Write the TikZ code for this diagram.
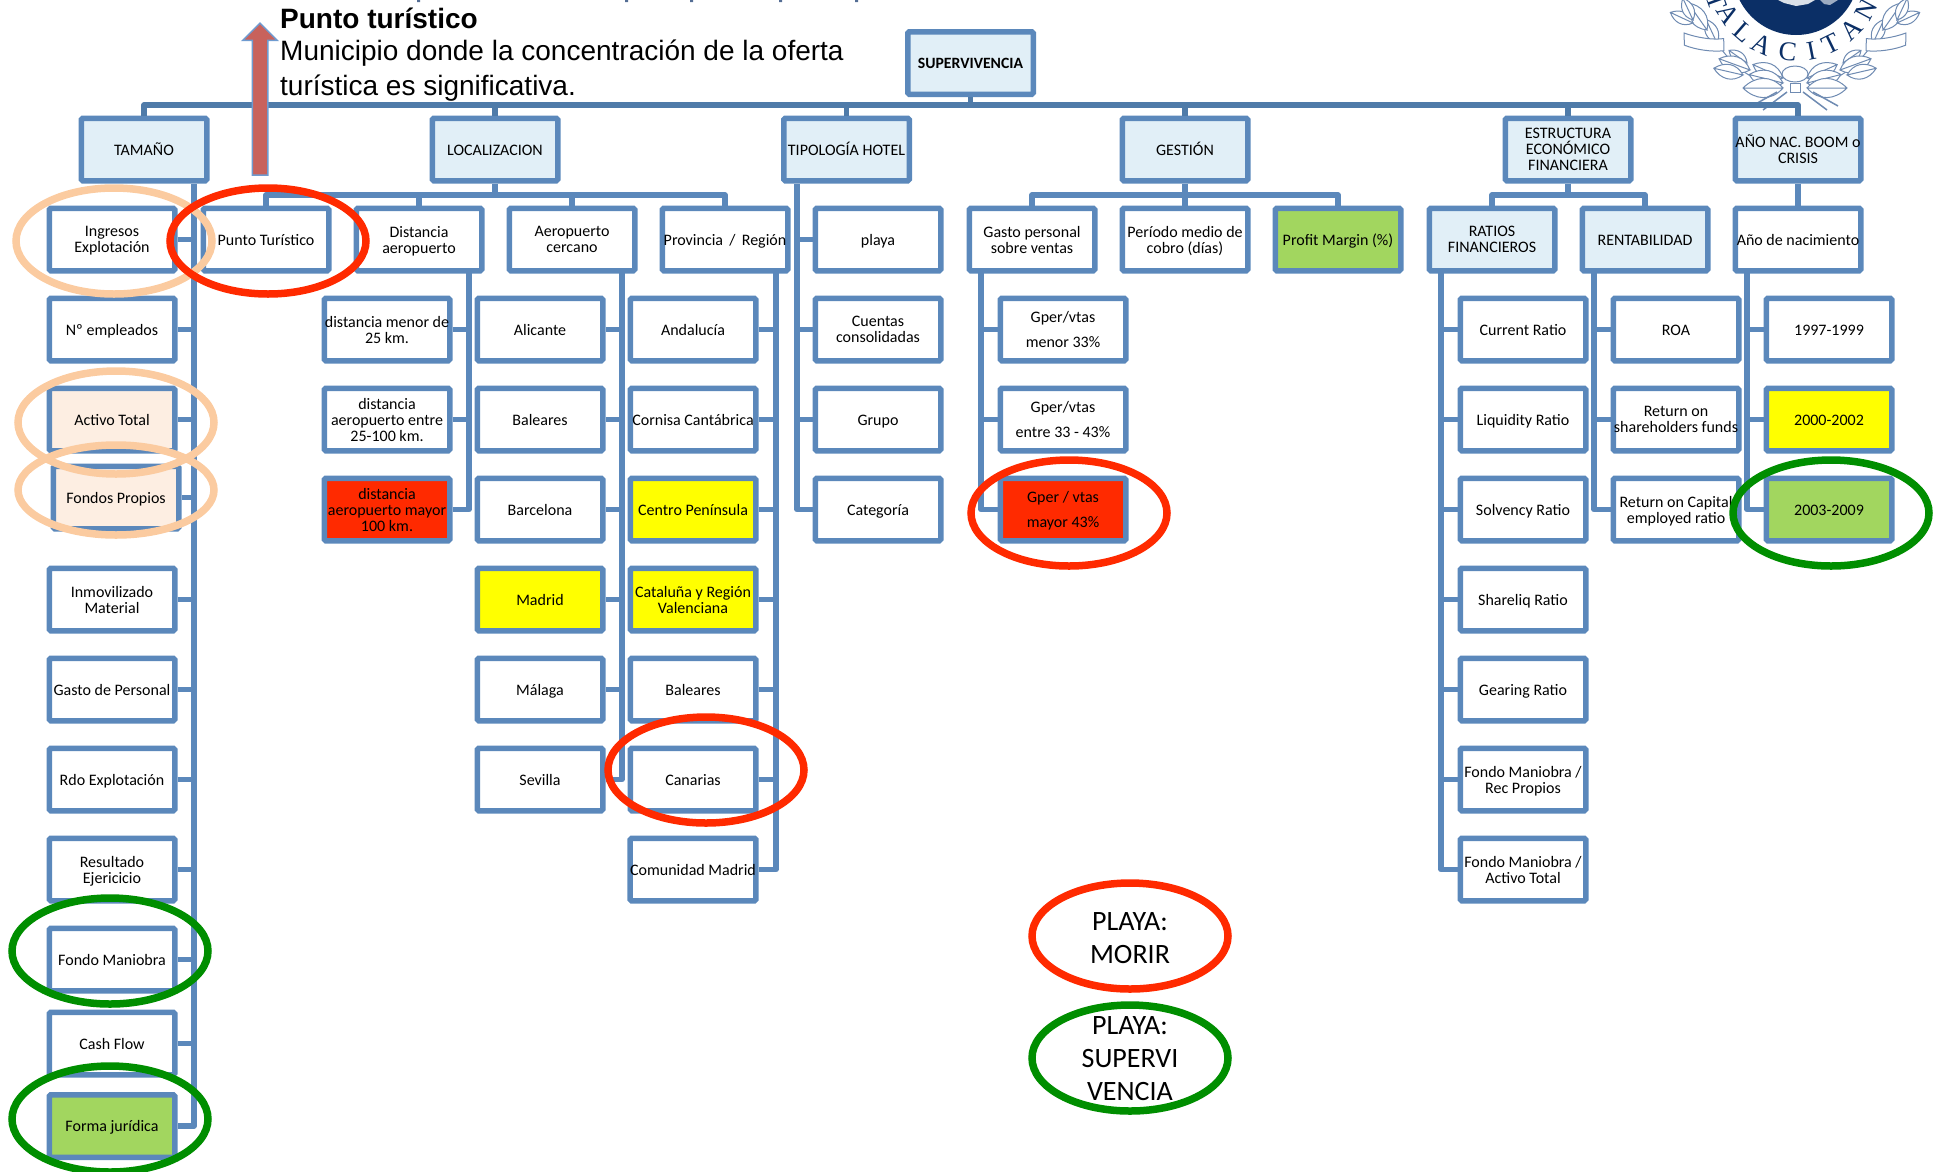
\documentclass[tikz,border=0pt]{standalone}
\usepackage{fontspec}
\setmainfont{Carlito}
\newfontfamily\arialfont{Liberation Sans}
\newfontfamily\crestfont{Liberation Serif}
\usepackage{tikz}
\usetikzlibrary{positioning,calc,shapes,shapes.arrows}
\definecolor{boxline}{HTML}{5B88BB}
\definecolor{busline}{HTML}{4F7BA9}
\definecolor{headfill}{HTML}{E1EFF7}
\definecolor{peachfill}{HTML}{FDEEE2}
\definecolor{peachring}{HTML}{FBCBA0}
\definecolor{greenfill}{HTML}{A2D65F}
\definecolor{ringgreen}{HTML}{008E00}
\definecolor{redfill}{HTML}{FF2A00}
\definecolor{amberfill}{HTML}{FFFF00}
\definecolor{arrowfill}{HTML}{C8625C}
\definecolor{arrowline}{HTML}{6F9BD0}
\definecolor{navy}{HTML}{0B2F66}
\definecolor{leafline}{HTML}{6F8BB2}
\begin{document}
\begin{tikzpicture}[x=1pt,y=1pt,node distance=90]
    \tikzstyle{every node}=[inner sep=0,align=center,font=\fontsize{16}{16}\selectfont]
    \tikzstyle{box}=[draw=boxline,line width=5.5,rounded corners=1.5,fill=white,rectangle,minimum width=125.5,minimum height=62.5,execute at begin node={\rule{0pt}{15pt}},execute at end node={\rule[-3.6pt]{0pt}{3.6pt}}]
    \tikzstyle{multi}=[text depth=-1pt]
    \tikzstyle{head}=[box,fill=headfill]
    \tikzstyle{peach}=[box,fill=peachfill]
    \tikzstyle{lime}=[box,fill=greenfill]
    \tikzstyle{amber}=[box,fill=amberfill]
    \tikzstyle{hot}=[box,fill=redfill]
    \tikzstyle{link}=[draw=boxline,line width=5.5,line join=round]
    \tikzstyle{bus}=[link,draw=busline]
    \tikzstyle{ring}=[ellipse,draw,line width=7.5,minimum width=196,minimum height=106]
    \tikzstyle{note}=[anchor=base west,font=\arialfont\fontsize{28}{33}\selectfont]
    \tikzstyle{crest}=[text=navy,font=\crestfont\fontsize{27}{27}\selectfont]
    \tikzstyle{leaf}=[draw=leafline,fill=white,line width=1]
    \useasboundingbox (0,0) rectangle (1937,-1171);
    \clip (0,0) rectangle (1937,-1171);

    % crest top right
    \coordinate (crestc) at (1796,28);
    \fill[navy] (crestc) circle (63);
    \fill[white!85!navy] (1778,0) -- (1815,0) -- (1808,-4) -- (1796,-6) -- (1784,-3) -- cycle;
    \fill[white!60!navy] (1820,0) -- (1838,0) -- (1830,-5) -- (1824,-4) -- cycle;
    \node[crest,rotate=-70] (crest1) at ($(crestc)+(-160:85)$) {T};
    \node[crest,rotate=-58] (crest2) at ($(crestc)+(-148:80)$) {A};
    \node[crest,rotate=-41] (crest3) at ($(crestc)+(-131:80)$) {L};
    \node[crest,rotate=-25] (crest4) at ($(crestc)+(-115:80)$) {A};
    \node[crest,rotate=-6] (crest5) at ($(crestc)+(-96:80)$) {C};
    \node[crest,rotate=11] (crest6) at ($(crestc)+(-79:80)$) {I};
    \node[crest,rotate=26] (crest7) at ($(crestc)+(-64:80)$) {T};
    \node[crest,rotate=44] (crest8) at ($(crestc)+(-46:80)$) {A};
    \node[crest,rotate=62] (crest9) at ($(crestc)+(-28:80)$) {N};
    \foreach \s in {1,-1}
        \draw[leafline,line width=1,shift={(1795,0)},xscale=\s] (12,-88) .. controls (40,-82) and (60,-70) .. (78,-43);
    \foreach \s in {1,-1}
        \foreach \dx/\dy/\a/\l in {78/43/65/26,88/30/55/33,102/23/25/25,102/20/65/24,48/63/35/22,45/70/20/33,52/75/13/30,12/78/24/33,12/83/14/35,12/88/0/40}
            \draw[leaf,shift={(\s*\dx+1795,-\dy)},xscale=\s,rotate=\a]
                (0,0) .. controls (\l*.3,\l*.34) and (\l*.7,\l*.3) .. (\l,0)
                .. controls (\l*.7,-\l*.3) and (\l*.3,-\l*.34) .. (0,0) -- (\l,0);
    \foreach \s in {1,-1}
        \draw[leaf,shift={(\s*90+1795,-42)},xscale=\s,rotate=8] (-20,-6) .. controls (-8,-9) and (8,-9) .. (20,-6) -- (22,6) .. controls (8,3) and (-8,3) .. (-18,6) -- cycle;
    \foreach \s in {1,-1}
        \draw[leafline,line width=1.5,shift={(1795,0)},xscale=\s] (8,-92) -- (32,-110) (18,-92) -- (43,-106);
    \draw[leaf] (1795,-74) ellipse (13 and 8);
    \draw[leaf] (1790,-83) rectangle (1800,-92);

    % tree: top
    \node[head,font=\bfseries\fontsize{15.7}{16}\selectfont] (super) at (970.5,-63) {SUPERVIVENCIA};
    \node[head] (tamano) at (144,-149.5) {TAMAÑO};
    \node[head] (localiza) at (495,-149.5) {LOCALIZACION};
    \node[head] (tipologia) at (846.5,-149.5) {TIPOLOGÍA HOTEL};
    \node[head] (gestion) at (1185,-149.5) {GESTIÓN};
    \node[head,multi] (estructura) at (1568,-149.5) {ESTRUCTURA\\ECONÓMICO\\FINANCIERA};
    \node[head,multi] (anio) at (1798,-149.5) {AÑO NAC. BOOM o\\CRISIS};

    % TAMAÑO
    \node[box,multi] (ingresos) at (112,-239.5) {Ingresos\\Explotación};
    \node[box] (empleados) [below of=ingresos] {Nº empleados};
    \node[peach] (activo) [below of=empleados] {Activo Total};
    \node[peach] (fondos) at (116,-497.5) {Fondos Propios};
    \node[box,multi,node distance=180] (inmovil) [below of=activo] {Inmovilizado\\Material};
    \node[box] (gastop) [below of=inmovil] {Gasto de Personal};
    \node[box] (rdo) [below of=gastop] {Rdo Explotación};
    \node[box,multi] (resultado) [below of=rdo] {Resultado\\Ejericicio};
    \node[box] (maniobra) [below of=resultado] {Fondo Maniobra};
    \node[box,node distance=84] (cash) [below of=maniobra] {Cash Flow};
    \node[lime,node distance=82.5] (forma) [below of=cash] {Forma jurídica};

    % LOCALIZACION
    \node[box] (punto) at (266,-239.5) {Punto Turístico};
    \node[box,multi] (distancia) at (419,-239.5) {Distancia\\aeropuerto};
    \node[box,multi] (aeropuerto) at (572,-239.5) {Aeropuerto\\cercano};
    \node[box] (provincia) at (725,-239.5) {Provincia\, /\, Región};
    \node[box,multi] (dmenor) at (387,-329.5) {distancia menor de\\25 km.};
    \node[box,multi] (dentre) [below of=dmenor] {distancia\\aeropuerto entre\\25-100 km.};
    \node[hot,multi] (dmayor) [below of=dentre] {distancia\\aeropuerto mayor\\100 km.};
    \node[box] (alicante) at (540,-329.5) {Alicante};
    \node[box] (abaleares) [below of=alicante] {Baleares};
    \node[box] (barcelona) [below of=abaleares] {Barcelona};
    \node[amber] (madrid) [below of=barcelona] {Madrid};
    \node[box] (malaga) [below of=madrid] {Málaga};
    \node[box] (sevilla) [below of=malaga] {Sevilla};
    \node[box] (andalucia) at (693,-329.5) {Andalucía};
    \node[box] (cornisa) [below of=andalucia] {Cornisa Cantábrica};
    \node[amber] (centro) [below of=cornisa] {Centro Península};
    \node[amber,multi] (cataluna) [below of=centro] {Cataluña y Región\\Valenciana};
    \node[box] (pbaleares) [below of=cataluna] {Baleares};
    \node[box] (canarias) [below of=pbaleares] {Canarias};
    \node[box] (comunidad) [below of=canarias] {Comunidad Madrid};

    % TIPOLOGIA
    \node[box] (playa) at (878,-239.5) {playa};
    \node[box,multi] (cuentas) [below of=playa] {Cuentas\\consolidadas};
    \node[box] (grupo) [below of=cuentas] {Grupo};
    \node[box] (categoria) [below of=grupo] {Categoría};

    % GESTION
    \node[box,multi] (gasto) at (1032,-239.5) {Gasto personal\\sobre ventas};
    \node[box,multi] (periodo) at (1185,-239.5) {Período medio de\\cobro (días)};
    \node[lime] (profit) at (1338,-239.5) {Profit Margin (\%)};
    \node[box,multi] (gmenor) at (1063,-329.5) {Gper/vtas\\[9pt]menor 33\%};
    \node[box,multi] (gentre) [below of=gmenor] {Gper/vtas\\[9pt]entre 33 - 43\%};
    \node[hot,multi] (gmayor) [below of=gentre] {Gper / vtas\\[9pt]mayor 43\%};

    % ESTRUCTURA
    \node[head,multi] (ratios) at (1492,-239.5) {RATIOS\\FINANCIEROS};
    \node[head] (rentab) at (1645,-239.5) {RENTABILIDAD};
    \node[box] (current) at (1523,-329.5) {Current Ratio};
    \node[box] (liquidity) [below of=current] {Liquidity Ratio};
    \node[box] (solvency) [below of=liquidity] {Solvency Ratio};
    \node[box] (shareliq) [below of=solvency] {Shareliq Ratio};
    \node[box] (gearing) [below of=shareliq] {Gearing Ratio};
    \node[box,multi] (fmrec) [below of=gearing] {Fondo Maniobra /\\Rec Propios};
    \node[box,multi] (fmactivo) [below of=fmrec] {Fondo Maniobra /\\Activo Total};
    \node[box] (roa) at (1676,-329.5) {ROA};
    \node[box,multi] (shfunds) [below of=roa] {Return on\\shareholders funds};
    \node[box,multi] (capital) [below of=shfunds] {Return on Capital\\employed ratio};

    % AÑO
    \node[box] (nacim) at (1798,-239.5) {Año de nacimiento};
    \node[box] (anio1) at (1829,-329.5) {1997-1999};
    \node[amber] (anio2) [below of=anio1] {2000-2002};
    \node[lime] (anio3) [below of=anio2] {2003-2009};

    % spines and bus points
    \coordinate (topbus) at (970.5,-105);
    \coordinate (locbus) at (495,-195);
    \coordinate (gesbus) at (1185,-195);
    \coordinate (estbus) at (1568,-195);
    \coordinate (tamspine) at (194,-184);
    \coordinate (disspine) at (469,-273);
    \coordinate (aerspine) at (622,-273);
    \coordinate (prospine) at (776,-273);
    \coordinate (tipspine) at (797,-184);
    \coordinate (gasspine) at (981,-273);
    \coordinate (ratspine) at (1441,-273);
    \coordinate (renspine) at (1594,-273);
    \coordinate (nacspine) at (1747,-273);

    % connectors
    \draw[bus] (tamano.north) |- (topbus) -| (anio.north);
    \draw[bus] (super.south) -- (topbus);
    \draw[bus] (localiza.north) -- (localiza.north |- topbus);
    \draw[bus] (tipologia.north) -- (tipologia.north |- topbus);
    \draw[bus] (gestion.north) -- (gestion.north |- topbus);
    \draw[bus] (estructura.north) -- (estructura.north |- topbus);

    \draw[link] (localiza.south) -- (locbus);
    \draw[link] (punto.north) |- (locbus) -| (provincia.north);
    \draw[link] (distancia.north) -- (distancia.north |- locbus);
    \draw[link] (aeropuerto.north) -- (aeropuerto.north |- locbus);
    \draw[link] (gestion.south) -- (periodo.north);
    \draw[link] (gasto.north) |- (gesbus) -| (profit.north);
    \draw[link] (estructura.south) -- (estbus);
    \draw[link] (ratios.north) |- (estbus) -| (rentab.north);
    \draw[link] (anio.south) -- (nacim.north);

    \draw[link] (tamspine) |- (forma.east);
    \draw[link] (ingresos.east) -- (ingresos.east -| tamspine);
    \draw[link] (empleados.east) -- (empleados.east -| tamspine);
    \draw[link] (activo.east) -- (activo.east -| tamspine);
    \draw[link] (fondos.east) -- (fondos.east -| tamspine);
    \draw[link] (inmovil.east) -- (inmovil.east -| tamspine);
    \draw[link] (gastop.east) -- (gastop.east -| tamspine);
    \draw[link] (rdo.east) -- (rdo.east -| tamspine);
    \draw[link] (resultado.east) -- (resultado.east -| tamspine);
    \draw[link] (maniobra.east) -- (maniobra.east -| tamspine);
    \draw[link] (cash.east) -- (cash.east -| tamspine);

    \draw[link] (disspine) |- (dmayor.east);
    \draw[link] (dmenor.east) -- (dmenor.east -| disspine);
    \draw[link] (dentre.east) -- (dentre.east -| disspine);

    \draw[link] (aerspine) |- (sevilla.east);
    \draw[link] (alicante.east) -- (alicante.east -| aerspine);
    \draw[link] (abaleares.east) -- (abaleares.east -| aerspine);
    \draw[link] (barcelona.east) -- (barcelona.east -| aerspine);
    \draw[link] (madrid.east) -- (madrid.east -| aerspine);
    \draw[link] (malaga.east) -- (malaga.east -| aerspine);

    \draw[link] (prospine) |- (comunidad.east);
    \draw[link] (andalucia.east) -- (andalucia.east -| prospine);
    \draw[link] (cornisa.east) -- (cornisa.east -| prospine);
    \draw[link] (centro.east) -- (centro.east -| prospine);
    \draw[link] (cataluna.east) -- (cataluna.east -| prospine);
    \draw[link] (pbaleares.east) -- (pbaleares.east -| prospine);
    \draw[link] (canarias.east) -- (canarias.east -| prospine);

    \draw[link] (tipspine) |- (categoria.west);
    \draw[link] (playa.west) -- (playa.west -| tipspine);
    \draw[link] (cuentas.west) -- (cuentas.west -| tipspine);
    \draw[link] (grupo.west) -- (grupo.west -| tipspine);

    \draw[link] (gasspine) |- (gmayor.west);
    \draw[link] (gmenor.west) -- (gmenor.west -| gasspine);
    \draw[link] (gentre.west) -- (gentre.west -| gasspine);

    \draw[link] (ratspine) |- (fmactivo.west);
    \draw[link] (current.west) -- (current.west -| ratspine);
    \draw[link] (liquidity.west) -- (liquidity.west -| ratspine);
    \draw[link] (solvency.west) -- (solvency.west -| ratspine);
    \draw[link] (shareliq.west) -- (shareliq.west -| ratspine);
    \draw[link] (gearing.west) -- (gearing.west -| ratspine);
    \draw[link] (fmrec.west) -- (fmrec.west -| ratspine);

    \draw[link] (renspine) |- (capital.west);
    \draw[link] (roa.west) -- (roa.west -| renspine);
    \draw[link] (shfunds.west) -- (shfunds.west -| renspine);

    \draw[link] (nacspine) |- (anio3.west);
    \draw[link] (anio1.west) -- (anio1.west -| nacspine);
    \draw[link] (anio2.west) -- (anio2.west -| nacspine);

    % rings
    \node[ring,draw=peachring] (ringingresos) at (114,-241) {};
    \node[ring,draw=peachring,minimum height=103] (ringactivo) at (116,-422.5) {};
    \node[ring,draw=peachring,minimum height=90] (ringfondos) at (116,-490) {};
    \node[ring,draw=redfill] (ringpunto) at (268,-241) {};
    \node[ring,draw=redfill] (ringcanarias) at (706,-770) {};
    \node[ring,draw=redfill] (ringgper) at (1069,-513) {};
    \node[ring,draw=ringgreen] (ringanio) at (1831,-513) {};
    \node[ring,draw=ringgreen] (ringmaniobra) at (110,-951) {};
    \node[ring,draw=ringgreen] (ringforma) at (110,-1119) {};
    \node[ring,draw=redfill] (playamorir) at (1130,-936) {};
    \node[ring,draw=ringgreen] (playavida) at (1130,-1058) {};
    \node[font=\fontsize{28}{33}\selectfont] (textmorir) at (1130,-938) {PLAYA:\\MORIR};
    \node[font=\fontsize{28}{33}\selectfont] (textvida) at (1130,-1059) {PLAYA:\\SUPERVI\\VENCIA};

    % arrow and its note
    \node[single arrow,rotate=90,draw=arrowline,fill=arrowfill,line width=1.5,inner ysep=7,inner xsep=0,minimum height=152,minimum width=33,single arrow head extend=9.5,single arrow tip angle=90] (puntoarrow) at (260,-103) {};
    \node[note,font=\arialfont\bfseries\fontsize{28}{33}\selectfont] (notetitle) at (280,-28) {Punto turístico};
    \node[note] (noteline1) at (280,-60.5) {Municipio donde la concentración de la oferta};
    \node[note] (noteline2) at (280,-95.5) {turística es significativa.};

    % clipped title edge
    \fill[navy!70!white] (417,0) rectangle (420,-2) (625,0) rectangle (628,-2) (690,0) rectangle (693,-2) (779,0) rectangle (782,-2) (855,0) rectangle (858,-2);
\end{tikzpicture}
\end{document}
